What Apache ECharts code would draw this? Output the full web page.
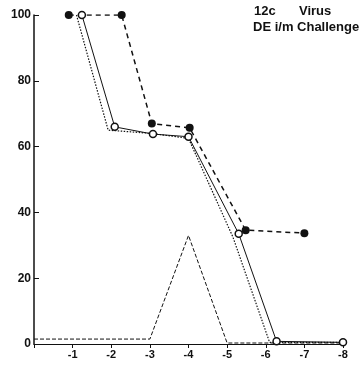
<!DOCTYPE html>
<html>
<head>
<meta charset="utf-8">
<script src="https://cdn.jsdelivr.net/npm/echarts@6/dist/echarts.min.js"></script>
<style>
  html, body { margin: 0; padding: 0; background: #fff; }
  #chart { width: 362px; height: 365px; }
</style>
</head>
<body>
<div id="chart"></div>
<script>
// dilution (log) on x, percent on y
const xTicks = [0, 1, 2, 3, 4, 5, 6, 7, 8];
const yTicks = [0, 20, 40, 60, 80, 100];

// filled circles, dashed
const filledPts = [[0.9, 100], [2.27, 100], [3.05, 67], [4.03, 65.7], [5.48, 34.6], [7.0, 33.7]];
// open circles, solid
const openPts = [[1.24, 100], [2.09, 66], [3.08, 63.8], [4.0, 63], [5.3, 33.5], [6.28, 0.8], [8.0, 0.5]];
// dotted
const dottedPts = [[1.1, 100], [1.92, 65], [3.05, 64], [4.0, 62.5], [5.15, 32.5], [6.1, 0.5], [8.0, 0.5]];
// thin dashed peak
const peakPts = [[0, 1.5], [2, 1.5], [3, 1.5], [4, 33], [5, 0.3], [8, 0.3]];

const legendLines = ["12c", "Virus", "DE i/m Challenge"];

const ink = "#111";
const legendFont = "bold 13px 'Liberation Sans'";
const chart = echarts.init(document.getElementById("chart"));

chart.setOption({
  animation: false,
  backgroundColor: "#fff",
  grid: { left: 34, right: 19, top: 15, bottom: 21, containLabel: false },
  graphic: [
    { type: "text", left: 254, top: 5, style: { text: legendLines[0], font: legendFont, fill: ink } },
    { type: "text", left: 299, top: 5, style: { text: legendLines[1], font: legendFont, fill: ink } },
    { type: "text", left: 253, top: 21, style: { text: legendLines[2], font: legendFont, fill: ink } },
  ],
  xAxis: {
    type: "value",
    min: xTicks[0],
    max: xTicks[xTicks.length - 1],
    interval: 1,
    splitLine: { show: false },
    axisLine: { lineStyle: { color: ink, width: 1.2 } },
    axisTick: { show: true, length: 4, lineStyle: { color: ink } },
    axisLabel: {
      color: ink,
      fontSize: 11,
      fontWeight: "bold",
      fontFamily: "Liberation Sans",
      margin: 5,
      formatter: (v) => (v === 0 ? "" : "-" + v),
    },
  },
  yAxis: {
    type: "value",
    min: yTicks[0],
    max: yTicks[yTicks.length - 1],
    interval: 20,
    splitLine: { show: false },
    axisLine: { show: true, lineStyle: { color: ink, width: 1.5 } },
    axisTick: { show: true, inside: true, length: 5, lineStyle: { color: ink } },
    axisLabel: {
      color: ink,
      fontSize: 12,
      fontWeight: "bold",
      fontFamily: "Liberation Sans",
      margin: 3,
    },
  },
  series: [
    {
      type: "line",
      data: peakPts,
      symbol: "none",
      lineStyle: { color: ink, width: 1, type: [4, 2] },
    },
    {
      type: "line",
      data: dottedPts,
      symbol: "none",
      lineStyle: { color: ink, width: 1.2, type: [1.5, 1.5] },
    },
    {
      type: "line",
      data: openPts,
      symbol: "circle",
      symbolSize: 7,
      showSymbol: true,
      itemStyle: { color: "#fff", borderColor: ink, borderWidth: 1.5 },
      lineStyle: { color: ink, width: 1 },
    },
    {
      type: "line",
      data: filledPts,
      symbol: "circle",
      symbolSize: 8,
      itemStyle: { color: ink },
      lineStyle: { color: ink, width: 1.5, type: [5, 4] },
    },
  ],
});
</script>
</body>
</html>
